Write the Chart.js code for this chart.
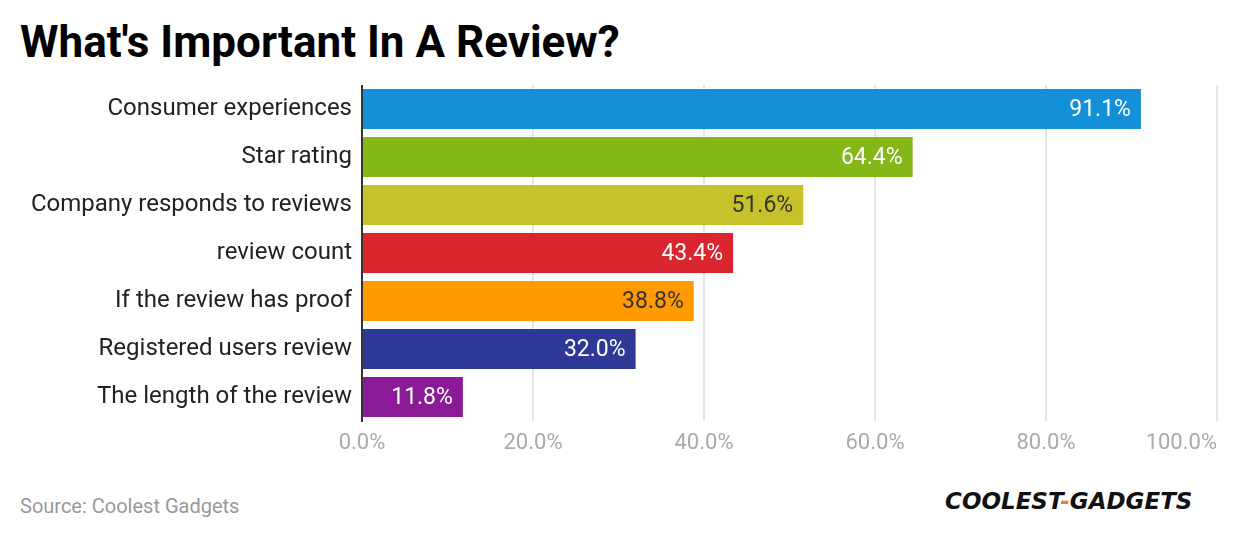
<!DOCTYPE html>
<html>
<head>
<meta charset="utf-8">
<script src="https://cdn.jsdelivr.net/npm/chart.js@4"></script>
<style>
  body { margin: 0; width: 1240px; height: 540px; background: #fff; font-family: Roboto, sans-serif; position: relative; overflow: hidden; }
  #title { position: absolute; left: 20px; top: 16px; font-size: 44px; font-weight: bold; color: #000; }
  #box { position: absolute; left: 0; top: 85px; width: 1240px; height: 380px; }
  #source { position: absolute; left: 20px; top: 494px; font-size: 20px; color: #999; }
  #logo { position: absolute; left: 945px; top: 488px; font-size: 23px; font-weight: 900; font-style: italic; color: #111; font-family: "DejaVu Sans", sans-serif; white-space: nowrap; }
  #logo span { color: #f0783c; }
</style>
</head>
<body>
<div id="title">What's Important In A Review?</div>
<div id="box"><canvas id="visualization"></canvas></div>
<div id="source">Source: Coolest Gadgets</div>
<div id="logo">COOLEST<span>-</span>GADGETS</div>
<script>
// chart data
var categories = ['Consumer experiences', 'Star rating', 'Company responds to reviews', 'review count',
    'If the review has proof', 'Registered users review', 'The length of the review'];
var values = [91.1, 64.4, 51.6, 43.4, 38.8, 32.0, 11.8];
var barColors = ['#1490d8', '#84b819', '#c5c22a', '#d9262e', '#ff9a00', '#2e3896', '#8a1a96'];
var labelColors = ['#fff', '#fff', '#333', '#fff', '#333', '#fff', '#fff'];
var tickValues = [0, 20, 40, 60, 80, 100];
var tickLabels = ['0.0%', '20.0%', '40.0%', '60.0%', '80.0%', '100.0%'];

// draws value text inside end of each bar, and the x tick labels
var valueLabels = {
    id: 'valueLabels',
    afterDatasetsDraw: function(chart) {
        var ctx = chart.ctx;
        var meta = chart.getDatasetMeta(0);
        ctx.save();
        ctx.font = '23px Roboto';
        ctx.textAlign = 'right';
        ctx.textBaseline = 'middle';
        meta.data.forEach(function(bar, i) {
            ctx.fillStyle = labelColors[i];
            ctx.fillText(values[i].toFixed(1) + '%', bar.x - 10, bar.y + 1);
        });
        // x axis labels (last one kept inside the canvas)
        var xs = chart.scales.x;
        ctx.font = '22px Roboto';
        ctx.fillStyle = '#aaa';
        ctx.textBaseline = 'top';
        tickValues.forEach(function(v, i) {
            ctx.textAlign = i === tickValues.length - 1 ? 'right' : 'center';
            ctx.fillText(tickLabels[i], xs.getPixelForValue(v), chart.chartArea.bottom + 11);
        });
        ctx.restore();
    }
};

var ctx = document.getElementById('visualization').getContext('2d');
var myChart = new Chart(ctx, {
    type: 'bar',
    data: {
        labels: categories,
        datasets: [{
            data: values,
            backgroundColor: barColors,
            barPercentage: 0.83,
            categoryPercentage: 1
        }]
    },
    plugins: [valueLabels],
    options: {
        indexAxis: 'y',
        responsive: true,
        maintainAspectRatio: false,
        animation: false,
        layout: { padding: { top: 0, right: 23, bottom: 44, left: 0 } },
        plugins: { legend: { display: false }, tooltip: { enabled: false } },
        scales: {
            x: {
                min: 0, max: 100,
                afterFit: function(s) { s.paddingLeft = 0; s.paddingRight = 0; },
                ticks: { stepSize: 20, display: false },
                grid: { color: '#e6e6e6', lineWidth: 2, drawTicks: false },
                border: { display: false }
            },
            y: {
                afterFit: function(s) { s.width = 362; s.paddingTop = 0; s.paddingBottom = 0; },
                ticks: { color: '#222', padding: 10, font: { size: 24, family: 'Roboto' } },
                grid: { display: false, drawTicks: false },
                border: { color: '#333', width: 2 }
            }
        }
    }
});
</script>
</body>
</html>
